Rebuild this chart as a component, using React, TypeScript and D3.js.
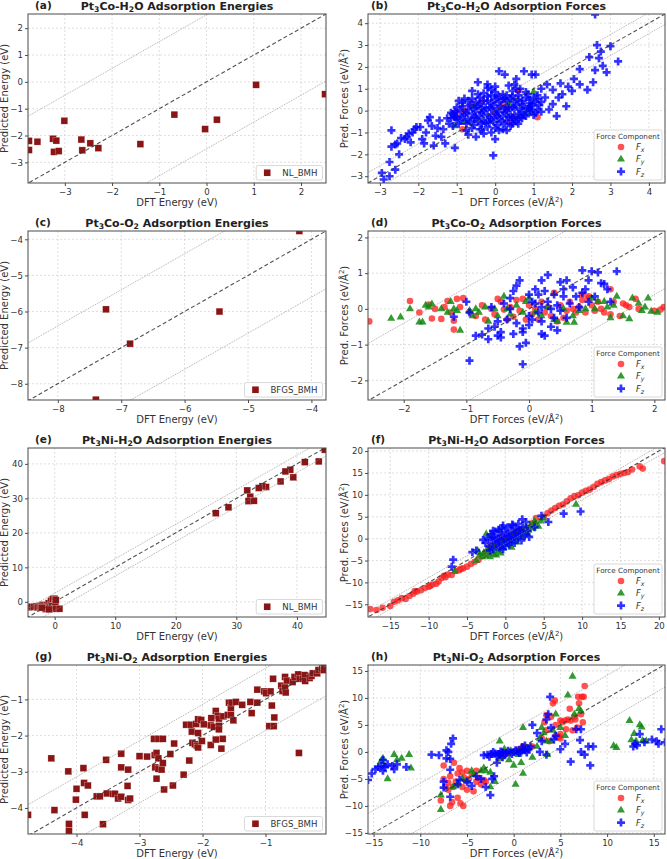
import React, { useEffect, useRef } from 'react';
import * as d3 from 'd3';

type Pt = [number, number];

const FONT = 'DejaVu Sans, sans-serif';

// Pt3Co-H2O
const coH2oEnergy: Pt[] = [
  [-3.76, -2.2], [-3.76, -2.54], [-3.58, -2.23], [-3.25, -2.12], [-3.18, -2.19], [-3.23, -2.61],
  [-3.13, -2.58], [-3.01, -1.45], [-2.65, -2.15], [-2.63, -2.55], [-2.46, -2.29], [-2.29, -2.47],
  [-1.4, -2.32], [-0.68, -1.22], [-0.03, -1.76], [0.22, -1.41], [1.05, -0.11], [2.51, -0.46],
];
const coH2oFx: Pt[] = [
  [-1.0, -0.05], [-1.05, -0.25], [-0.85, -0.85], [-0.6, 0.25], [-0.35, 0.45], [0.4, -0.55],
  [0.6, 0.9], [1.1, -0.3], [0.5, -0.3], [-0.8, 0.0], [0.2, 0.3], [0.0, -0.1], [0.3, 0.1],
];
const coH2oFy: Pt[] = [
  [-1.05, -0.7], [-0.8, -0.5], [0.6, -0.3], [0.8, -0.1], [0.95, -0.1], [1.0, 0.85],
  [-0.55, 0.2], [0.35, 0.3],
];
const coH2oFz: Pt[] = [
  // lower-left tail
  [-2.95, -2.85], [-2.9, -3.15], [-2.75, -2.35], [-2.7, -1.65], [-2.7, -0.9], [-2.6, -1.55],
  [-2.55, -1.5], [-2.5, -2.0], [-2.45, -1.25], [-2.35, -1.3], [-2.3, -1.2], [-2.2, -1.45],
  [-2.15, -1.0], [-2.1, -0.85], [-2.05, -0.75], [-1.95, -0.75], [-1.9, -1.3], [-1.8, -1.0],
  [-1.75, -0.45], [-1.65, -0.7], [-1.6, -1.6], [-1.55, -1.15], [-1.5, -0.8], [-1.45, -0.45],
  [-1.4, -1.2], [-1.35, -0.85], [-1.3, -1.5], [-1.25, -0.35], [-1.2, -0.6], [-1.15, -0.1],
  [-1.1, -0.7], [-1.05, -1.7], [-1.0, -0.4], [-2.75, -3.0], [-2.6, -2.7], [-2.25, -1.05],
  [-1.85, -1.5], [-1.7, -0.3], [-1.05, -0.3],
  // upper-right tail
  [3.2, 2.25], [3.0, 2.95], [2.65, 3.0], [2.6, 4.4], [2.75, 2.7], [2.7, 2.4], [2.8, 2.05],
  [2.9, 1.75], [2.6, 1.85], [2.4, 0.95], [2.45, 2.45], [2.2, 1.9], [2.2, 1.2], [2.05, 1.45],
  [2.0, 0.9], [1.9, 1.1], [1.75, 0.75], [1.65, 0.6], [1.7, 1.25], [1.5, 0.95], [1.5, 0.3],
  [1.35, 1.2], [1.2, 0.4], [1.2, -0.05], [1.4, 0.05], [1.3, 0.6], [1.05, 1.65], [0.95, 1.65],
  [0.75, 1.8], [0.55, 1.45], [0.8, 0.85], [0.95, 0.3], [1.1, 0.55], [1.05, -0.1], [0.9, 0.1],
  [0.75, -0.2], [0.65, 1.0], [2.55, 1.3], [1.85, 0.2], [1.6, -0.25], [1.2, 1.0],
  // around the core
  [0.1, 1.8], [-0.45, 1.3], [0.0, 1.1], [-0.2, 1.2], [0.35, 1.15], [0.5, 1.2], [-0.6, 0.9],
  [0.25, 1.65], [-0.05, -2.05], [-0.5, -1.2], [-0.3, -1.05], [0.0, -1.3], [-0.7, -1.1],
  [0.3, -0.9], [0.1, -0.9], [-0.35, -0.85], [0.6, -0.6], [0.45, -0.6], [-0.1, -1.0],
  // core
  [-0.3, 0.8], [0.0, 0.85], [0.2, 0.75], [0.45, 0.9], [-0.1, 0.95],
  [-0.6, 0.55], [-0.4, 0.6], [-0.2, 0.65], [0.05, 0.6], [0.25, 0.55], [0.45, 0.65], [0.6, 0.7], [0.8, 0.6],
  [-0.85, 0.35], [-0.7, 0.45], [-0.5, 0.4], [-0.3, 0.45], [-0.1, 0.35], [0.1, 0.4], [0.3, 0.45],
  [0.5, 0.4], [0.7, 0.45], [0.9, 0.5], [1.05, 0.4],
  [-1.0, 0.15], [-0.85, 0.2], [-0.65, 0.25], [-0.45, 0.2], [-0.25, 0.15], [-0.05, 0.25], [0.15, 0.2],
  [0.35, 0.15], [0.55, 0.25], [0.75, 0.2], [0.95, 0.2], [1.15, 0.25],
  [-1.05, -0.05], [-0.9, 0.0], [-0.7, 0.05], [-0.5, -0.05], [-0.3, 0.0], [-0.1, 0.05], [0.1, -0.05],
  [0.3, 0.0], [0.5, 0.05], [0.7, -0.05], [0.9, 0.0], [1.1, 0.05],
  [-1.0, -0.25], [-0.8, -0.2], [-0.6, -0.15], [-0.4, -0.25], [-0.2, -0.2], [0.0, -0.15], [0.2, -0.25],
  [0.4, -0.2], [0.6, -0.15], [0.8, -0.25], [1.0, -0.2],
  [-0.9, -0.45], [-0.7, -0.4], [-0.5, -0.35], [-0.3, -0.45], [-0.1, -0.4], [0.1, -0.35], [0.3, -0.45],
  [0.5, -0.4], [0.7, -0.35],
  [-0.75, -0.6], [-0.55, -0.65], [-0.35, -0.6], [-0.15, -0.55], [0.05, -0.65], [0.25, -0.6], [0.4, -0.7],
  [-0.6, -0.8], [-0.4, -0.85], [-0.2, -0.75], [0.0, -0.8], [0.2, -0.85],
  [-0.95, 0.45], [-1.15, -0.35], [-0.75, -0.9], [0.85, 0.75], [1.1, 0.7], [-0.2, 1.05], [0.55, 1.0],
  [-0.4, 0.3], [-0.2, 0.45], [0.0, 0.5], [0.2, 0.55], [0.4, 0.55], [0.6, 0.5], [-0.55, 0.1],
  [-0.35, 0.1], [-0.15, 0.15], [0.05, 0.1], [0.25, 0.1], [0.45, 0.15], [0.65, 0.1], [0.85, 0.1],
  [-0.75, -0.1], [-0.55, -0.3], [-0.35, -0.1], [-0.15, -0.3], [0.05, -0.25], [0.25, -0.1], [0.45, -0.3],
  [0.65, -0.3], [-0.85, -0.3], [-0.65, -0.5], [-0.45, -0.5], [-0.25, -0.55], [-0.05, -0.5],
  [0.15, -0.5], [0.35, -0.3], [0.1, 0.65], [-0.1, 0.7], [0.3, 0.7], [-0.45, 0.75], [0.7, 0.3],
  [0.9, 0.35], [1.0, 0.6], [-0.95, -0.6], [-1.1, -0.15], [-0.8, 0.55], [0.55, -0.5],
];

// Pt3Co-O2
const coO2Energy: Pt[] = [
  [-4.19, -3.77], [-7.24, -5.94], [-6.86, -6.89], [-5.45, -6.0], [-7.4, -8.44],
];
const coO2Fx: Pt[] = [
  [-2.55, -0.35], [-1.6, 0.12], [-1.55, -0.27], [-1.5, 0.0], [-1.4, -0.28], [-1.3, 0.22],
  [-1.25, -0.1], [-1.2, -0.33], [-1.15, 0.28], [-1.1, 0.05], [-1.05, 0.3], [-1.2, -0.58],
  [-0.95, -0.08], [-0.85, -0.2], [-0.75, 0.1], [-0.7, -0.3], [-0.6, 0.0], [-0.55, -0.15],
  [-0.5, 0.28], [-0.45, 0.2], [-0.4, -0.02], [-0.35, -0.3], [-0.3, 0.05], [-0.25, -0.22],
  [-0.2, 0.25], [-0.15, -0.05], [-0.1, 0.28], [-0.05, -0.3], [0.0, 0.1], [0.05, -0.15],
  [0.1, 0.0], [0.15, -0.3], [0.2, 0.2], [0.25, -0.1], [0.3, 0.05], [0.35, -0.2], [0.4, 0.45],
  [0.45, -0.35], [0.5, 0.1], [0.55, -0.25], [0.6, -0.05], [0.65, 0.2], [0.7, 0.0], [0.75, -0.1],
  [0.8, 0.05], [0.85, 0.25], [0.9, -0.1], [0.95, 0.3], [1.0, 0.1], [1.05, -0.05], [1.1, 0.2],
  [1.15, 0.0], [1.2, -0.1], [1.3, 0.55], [1.3, -0.15], [1.35, 0.2], [1.45, -0.2], [1.5, 0.15],
  [1.55, 0.1], [1.6, 0.05], [1.75, 0.0], [1.7, 0.28], [2.15, 0.05], [2.0, -0.05], [2.1, -0.02],
  [0.85, 0.4], [0.95, 0.35], [-1.75, -0.1], [-1.9, 0.22], [-1.35, 0.05],
];
const coO2Fy: Pt[] = [
  [-2.2, -0.27], [-2.05, -0.23], [-1.75, -0.37], [-1.7, -0.37], [-1.6, 0.05], [-1.55, 0.13],
  [-1.4, 0.0], [-1.3, -0.1], [-1.25, 0.2], [-1.2, 0.0], [-1.15, -0.05], [-1.1, -0.6],
  [-0.95, -0.05], [-0.9, -0.2], [-0.85, 0.0], [-0.8, -0.1], [-0.7, 0.05], [-0.65, -0.35],
  [-0.55, 0.0], [-0.5, -0.2], [-0.4, 0.35], [-0.35, 0.0], [-0.3, -0.15], [-0.2, 0.1],
  [-0.1, -0.1], [-0.05, 0.2], [0.0, 0.3], [0.1, -0.1], [0.2, -0.2], [0.3, 0.05], [0.4, -0.3],
  [0.45, -0.35], [0.55, 0.0], [0.6, -0.38], [0.7, -0.2], [0.72, -0.38], [0.8, -0.05], [0.9, 0.0],
  [1.0, 0.3], [1.05, 0.0], [1.1, 0.2], [1.2, 0.2], [1.25, 0.05], [1.3, -0.25], [1.35, 0.1],
  [1.4, 0.35], [1.5, -0.2], [1.6, -0.28], [1.65, 0.3], [1.75, 0.15], [1.9, 0.3], [1.8, -0.05],
  [1.95, -0.07], [2.05, -0.1], [1.85, 0.05], [-1.65, 0.1], [-1.9, 0.0],
];
const coO2Fz: Pt[] = [
  [-0.95, -1.45], [-1.2, -0.22], [-1.0, 0.2], [-0.95, -0.1], [-0.85, -0.75], [-0.75, -0.72],
  [-0.65, -0.55], [-0.65, -0.85], [-0.6, 0.05], [-0.55, -0.5], [-0.5, -0.75], [-0.5, -0.35],
  [-0.45, -0.65], [-0.45, -0.8], [-0.4, 0.15], [-0.35, -0.3], [-0.3, 0.0], [-0.25, -0.7],
  [-0.2, 0.65], [-0.2, -0.4], [-0.15, 0.8], [-0.1, -0.55], [-0.1, -0.65], [-0.15, -1.05],
  [-0.05, -0.95], [-0.1, -1.55], [0.0, 0.4], [0.0, -0.2], [0.05, 0.2], [0.05, -0.3], [0.1, 0.55],
  [0.15, -0.1], [0.2, 0.8], [0.2, -0.35], [0.25, 0.5], [0.25, -0.75], [0.3, 0.95], [0.3, 0.2],
  [0.35, 0.0], [0.4, -0.25], [0.4, 0.4], [0.45, 0.1], [0.5, 0.75], [0.5, -0.05], [0.55, 0.55],
  [0.55, 0.35], [0.6, 0.8], [0.6, -0.25], [0.65, 0.15], [0.7, 0.6], [0.75, 0.35], [0.8, 0.05],
  [0.85, 0.45], [0.85, 1.08], [0.9, 0.55], [0.95, 0.8], [0.95, 0.2], [1.0, 1.05], [1.05, 0.35],
  [1.1, 1.02], [1.15, 0.72], [1.2, 0.7], [1.25, 0.55], [1.4, 1.05], [1.3, 0.2], [0.2, -0.7],
  [0.15, 0.4], [-0.25, 0.5], [0.0, -0.45], [0.35, -0.5], [-0.3, 0.3], [0.45, -0.6], [0.2, 0.05],
  [0.1, 0.15],
];

// Pt3Ni-H2O
const niH2oEnergy: Pt[] = [
  [44.6, 44.1], [43.6, 40.7], [41.3, 40.5], [38.9, 38.3], [38.1, 37.8], [39.4, 36.1], [37.3, 34.9],
  [34.9, 33.3], [34.3, 33.5], [33.7, 33.0], [31.8, 32.3], [32.3, 30.5], [32.0, 29.2], [32.9, 29.3],
  [28.7, 27.4], [26.6, 25.7],
  [-4.3, -1.6], [-3.8, -1.4], [-3.4, -1.5], [-3.0, -1.3], [-2.8, -1.6], [-2.5, -1.2], [-2.3, -1.4],
  [-2.0, -0.9], [-1.8, -1.3], [-1.6, -1.6], [-1.5, -2.1], [-1.3, -1.0], [-1.1, -1.5], [-1.0, -0.4],
  [-0.8, -1.3], [-0.6, 0.3], [-0.5, -1.8], [-0.4, -0.8], [-0.3, 0.8], [-0.2, -1.3], [0.0, 0.9],
  [0.1, -0.6], [0.1, -1.2], [0.2, 0.5], [0.2, -2.0], [0.8, -2.0], [-0.9, -2.2], [-2.1, -1.7],
];
const niH2oFx: Pt[] = [
  [-17.6, -16.1], [-16.8, -16.3], [-16.0, -15.8], [-15.0, -15.4], [-14.5, -14.4], [-14.0, -14.1],
  [-13.5, -13.6], [-13.0, -13.8], [-12.5, -13.1], [-12.0, -12.6], [-11.8, -12.0], [-11.5, -12.1],
  [-11.0, -11.8], [-10.5, -11.3], [-10.0, -11.0], [-9.8, -10.8], [-9.5, -10.5], [-9.0, -10.3],
  [-8.7, -9.8], [-8.3, -9.0], [-8.0, -8.5], [-7.8, -8.8], [-7.5, -8.2], [-7.0, -8.3], [-6.5, -7.4],
  [-6.0, -7.2], [-5.8, -6.9], [-5.5, -6.8], [-5.0, -6.4], [-4.5, -5.8], [-4.0, -5.3], [-3.5, -4.8],
  [-3.0, -4.0], [-2.5, -3.5], [-2.0, -1.5], [-1.5, -2.0], [-1.0, -1.0], [-0.5, 0.5], [0.0, 0.0],
  [0.5, -0.5], [1.0, 1.0], [1.5, 2.0], [2.0, 2.0], [3.0, 2.5], [3.5, 3.5], [4.0, 4.7], [5.0, 5.0],
  [5.5, 5.8], [6.0, 6.4], [6.5, 7.0], [7.0, 7.5], [7.5, 7.8], [8.0, 8.5], [8.5, 9.2], [9.0, 9.7],
  [9.5, 9.9], [10.0, 10.5], [10.5, 10.9], [11.0, 11.2], [11.5, 11.8], [12.0, 12.5], [12.5, 12.9],
  [13.0, 13.3], [13.5, 13.6], [14.0, 14.2], [14.5, 14.5], [15.0, 14.8], [15.5, 15.0], [16.0, 15.2],
  [16.5, 15.8], [17.5, 16.5], [17.9, 16.0], [20.7, 17.7],
];
const niH2oFy: Pt[] = [
  [-3.3, -3.8], [-3.0, -4.2], [-2.8, -3.2], [-2.6, -3.9], [-2.4, -2.6], [-2.2, -3.3], [-2.0, -2.2],
  [-1.8, -3.0], [-1.6, -1.6], [-1.5, -3.6], [-1.3, -2.4], [-1.1, -1.2], [-0.9, -2.8], [-0.7, -1.8],
  [-0.5, -0.6], [-0.3, -2.2], [-0.1, -1.0], [0.2, -0.2], [0.4, -1.5], [0.6, 0.6], [0.9, -0.5],
  [1.1, 1.2], [1.4, 0.3], [1.6, 1.8], [1.9, 0.9], [2.1, 2.2], [2.4, 1.4], [2.7, 2.6], [3.0, 1.9],
  [3.3, 3.0], [3.6, 2.4], [4.0, 3.3], [4.3, 2.8], [4.6, 4.0], [-2.5, 1.0], [-1.9, 0.6], [-0.8, 1.9],
  [5.0, 4.6], [9.2, 7.8], [-3.8, -5.0], [-6.6, -7.5], [-2.0, -4.2], [-3.6, -2.8], [0.8, -2.0],
  [2.2, 0.2], [3.8, 4.0], [-1.2, -3.8], [-0.6, -3.3], [1.5, -0.8], [2.9, 1.0],
];
const niH2oFz: Pt[] = [
  [-2.6, -1.0], [-2.3, 0.2], [-2.1, -1.8], [-1.9, 1.0], [-1.8, -0.4], [-1.6, -2.4], [-1.5, 0.4],
  [-1.3, 1.6], [-1.2, -1.2], [-1.0, 0.0], [-0.9, 2.0], [-0.8, -2.0], [-0.6, 0.8], [-0.5, -0.8],
  [-0.4, 2.4], [-0.2, 0.2], [-0.1, -1.6], [0.0, 1.4], [0.2, -0.4], [0.3, 2.6], [0.4, 0.6],
  [0.5, -1.4], [0.7, 1.8], [0.8, -0.2], [1.0, 3.0], [1.1, 0.8], [1.2, -1.0], [1.4, 2.2], [1.6, 0.2],
  [1.7, 3.4], [1.9, 1.4], [2.1, -0.4], [2.3, 2.6], [2.5, 0.8], [2.7, 3.8], [2.9, 1.8], [3.1, 0.4],
  [-2.9, -0.3], [-0.3, 3.0], [-1.4, -0.2], [0.6, 0.0], [1.3, 1.2], [-0.7, -0.1], [0.1, 0.9],
  [1.8, 2.0], [-3.8, -2.7], [-4.3, -3.1], [-6.8, -4.8], [-7.0, -6.4], [4.7, 5.2], [5.6, 3.8],
  [7.6, 5.7], [9.8, 6.2], [3.8, 2.6], [2.2, 4.4], [-1.6, 1.8], [0.9, 3.2], [-2.0, -2.7], [-0.3, -2.4],
];

// Pt3Ni-O2
const niO2Energy: Pt[] = [
  [-4.77, -4.19], [-4.4, -2.63], [-4.35, -4.06], [-4.13, -2.99], [-4.12, -4.44], [-4.12, -4.63],
  [-4.0, -3.47], [-4.01, -3.77], [-3.89, -2.9], [-3.88, -3.31], [-3.87, -4.19], [-3.82, -3.38],
  [-3.68, -3.68], [-3.63, -3.68], [-3.53, -2.67], [-3.52, -3.6], [-3.58, -4.45], [-3.42, -3.61],
  [-3.39, -3.61], [-3.34, -3.74], [-3.29, -2.5], [-3.29, -2.88], [-3.29, -3.69], [-3.18, -2.94],
  [-3.19, -3.39], [-3.18, -3.78], [-3.15, -3.74], [-3.0, -2.57], [-2.88, -2.58], [-2.77, -2.09],
  [-2.7, -2.09], [-2.63, -2.09], [-2.76, -2.54], [-2.73, -2.48], [-2.7, -2.63], [-2.75, -2.88],
  [-2.7, -2.92], [-2.65, -2.94], [-2.63, -2.76], [-2.73, -3.19], [-2.61, -3.49], [-2.51, -2.51],
  [-2.45, -2.22], [-2.47, -3.38], [-2.3, -3.08], [-2.26, -1.7], [-2.21, -2.69], [-2.19, -1.7],
  [-2.17, -1.89], [-2.16, -2.2], [-2.12, -2.24], [-2.1, -1.68], [-2.09, -2.28], [-2.07, -1.55],
  [-2.07, -1.93], [-2.07, -2.33], [-2.02, -1.57], [-2.01, -2.15], [-1.98, -1.69], [-1.87, -1.72],
  [-1.87, -2.26], [-1.86, -1.52], [-1.82, -1.76], [-1.79, -2.11], [-1.79, -1.32], [-1.76, -1.46],
  [-1.74, -1.53], [-1.74, -1.73], [-1.74, -1.83], [-1.7, -2.36], [-1.68, -2.09], [-1.67, -1.47],
  [-1.6, -1.43], [-1.58, -1.09], [-1.55, -1.43], [-1.55, -1.24], [-1.54, -1.09], [-1.51, -1.58],
  [-1.47, -1.07], [-1.37, -1.15], [-1.24, -1.07], [-1.22, -1.38], [-1.13, -0.73], [-1.13, -1.09],
  [-1.02, -0.78], [-0.99, -0.83], [-0.94, -1.74], [-0.92, -0.78], [-0.9, -1.17], [-0.88, -0.43],
  [-0.87, -1.74], [-0.86, -1.5], [-0.75, -0.62], [-0.73, -0.77], [-0.69, -0.38], [-0.69, -0.67],
  [-0.68, -0.81], [-0.66, -0.48], [-0.57, -0.52], [-0.54, -0.38], [-0.48, -0.31], [-0.47, -2.48],
  [-0.46, -0.43], [-0.41, -0.43], [-0.38, -0.33], [-0.37, -0.49], [-0.3, -0.41], [-0.27, -0.35],
  [-0.25, -0.28], [-0.18, -0.28], [-0.16, -0.19], [-0.1, -0.15], [-0.07, -0.08], [-0.07, -0.19],
];
const niO2Fx: Pt[] = [
  [-7.8, -9.0], [-7.5, -2.5], [-7.5, -5.0], [-7.3, -6.5], [-7.0, -7.0], [-6.8, -10.0], [-6.6, -9.3],
  [-6.5, -6.5], [-6.4, -2.0], [-6.2, -5.5], [-6.0, -4.0], [-6.0, -8.5], [-5.8, -3.0], [-5.7, -9.5],
  [-5.5, -6.5], [-5.4, -10.0], [-5.3, -4.8], [-5.0, -3.5], [-5.0, -7.0], [-4.8, -5.0], [-4.5, -4.0],
  [-4.3, -7.3], [-4.0, -5.5], [-3.8, -4.8], [-3.5, -6.0], [-3.2, -5.2], [-3.0, -5.5], [-6.8, -4.5],
  [-7.0, -5.7], [-5.5, -3.8], [-4.0, -3.5], [-1.0, -0.5], [0.5, 0.5], [1.0, 1.0], [1.2, 0.5],
  [3.0, 2.5], [3.3, 5.5], [3.5, 6.8], [3.5, 4.0], [3.8, 2.0], [4.0, 6.5], [4.2, 9.0], [4.4, 9.5],
  [4.5, 5.0], [4.5, 3.0], [4.8, 2.8], [5.0, 5.8], [5.0, 3.3], [5.2, 5.5], [5.5, 5.8], [5.6, 4.2],
  [5.8, 6.0], [6.0, 8.0], [6.1, 5.8], [6.3, 4.0], [6.5, 6.5], [6.6, 6.0], [6.9, 10.2], [7.0, 9.0],
  [7.3, 10.2], [7.4, 5.5], [7.5, 10.2], [7.6, 12.2], [7.2, 7.0], [5.0, 2.5], [6.8, 4.5], [2.0, 1.0],
];
const niO2Fy: Pt[] = [
  [-14.2, -1.7], [-14.0, -1.2], [-13.8, -2.5], [-13.5, -5.0], [-12.8, -0.5], [-12.5, -1.5],
  [-12.0, -1.2], [-11.2, -0.5], [-11.0, -3.0], [-7.8, -8.0], [-7.8, -10.7], [-6.5, -6.5],
  [-6.0, -6.0], [-5.5, -5.0], [-5.0, -5.5], [-4.5, -3.5], [-4.3, -4.2], [-3.5, -3.5], [-3.2, -3.0],
  [-3.0, -3.5], [-2.5, -6.5], [-2.5, -3.8], [-2.0, -5.5], [-1.5, 2.0], [-1.5, -1.2], [-1.0, 0.5],
  [-0.5, -1.5], [-0.3, 0.2], [0.0, -2.5], [0.2, -6.0], [0.5, -0.5], [0.8, -2.0], [1.0, 4.5],
  [1.0, -4.0], [1.5, 0.5], [2.0, -1.0], [2.5, 1.0], [2.8, 2.5], [3.0, 4.5], [3.2, 3.5], [3.5, 2.0],
  [3.6, -0.5], [4.0, 2.0], [4.5, 7.0], [4.2, 4.0], [5.0, 4.5], [5.5, 3.0], [5.8, 10.5], [6.3, 14.0],
  [6.5, 7.0], [7.0, 8.0], [7.2, 7.5], [10.7, 1.1], [11.0, 0.8], [12.4, 5.8], [12.6, 2.2], [12.9, 3.4],
  [13.1, 2.0], [13.5, 5.0], [13.7, 4.6], [13.8, 2.1], [14.2, 2.0],
];
const niO2Fz: Pt[] = [
  [-15.6, -5.2], [-15.2, -4.0], [-14.8, -3.2], [-14.5, -2.8], [-14.2, -2.6], [-13.8, -2.8],
  [-13.5, -2.3], [-13.0, -2.6], [-12.8, -3.2], [-14.0, -1.5], [-14.0, -3.5], [-12.5, -2.3],
  [-11.5, -2.8], [-8.8, -0.5], [-8.0, -0.6], [-7.2, 0.3], [-6.5, 2.5], [-6.7, 1.5], [-7.0, 0.0],
  [-7.2, -1.2], [-6.8, -1.3], [-6.8, -3.3], [-7.5, -5.5], [-6.8, -8.3], [-7.5, -6.6], [-5.8, -5.2],
  [-6.0, -6.0], [-5.0, -5.5], [-4.5, -6.3], [-3.0, -6.5], [-2.5, -8.0], [-2.3, -5.0], [-2.1, -4.5],
  [-1.8, -2.0], [-1.5, -0.5], [-1.2, -0.1], [-3.5, -5.0], [-4.0, -4.5], [-1.2, -1.0],
  [-3.2, -0.6], [-2.8, -0.5], [-2.4, -0.4], [-2.0, -0.3], [-1.6, -0.4], [-1.2, -0.2], [-0.8, -0.2],
  [-0.4, -0.1], [0.0, 0.0], [0.4, 0.1], [0.8, 0.1], [1.2, 0.3], [1.6, 0.5], [-2.6, -0.9],
  [-1.8, -0.8], [-1.0, -0.6], [-0.2, -0.4], [0.6, -0.2], [1.4, -0.1], [-1.4, 0.1], [-0.6, 0.2],
  [0.2, 0.3], [1.0, 0.5], [-2.2, 0.0], [1.8, 1.0], [1.2, 1.2], [0.9, 0.9],
  [2.0, 5.0], [2.5, 3.5], [3.0, 2.0], [2.8, 0.0], [3.5, -0.5], [3.7, 7.0], [3.5, 6.0], [3.9, 10.2],
  [4.0, 4.5], [4.5, 3.0], [5.0, 0.5], [4.3, 2.3], [5.5, 1.5], [6.1, -1.8], [6.7, 4.2], [7.1, 2.2],
  [7.2, 0.0], [7.6, -0.5], [7.2, 4.2], [8.0, 1.0], [8.2, -2.5], [8.5, 1.0], [12.8, 1.0], [13.2, 1.2],
  [13.5, 3.3], [14.0, 1.8], [14.8, 2.3], [15.3, 2.0], [15.5, 1.5], [15.8, 4.2], [16.2, 1.8], [13.0, 1.5],
];

interface PanelSpec {
  tag: string;
  metal: string;
  ads: 'H2O' | 'O2';
  col: number;
  row: number;
  xDomain: [number, number];
  yDomain: [number, number];
  ticks: number[];
  band: number;
  energy?: Pt[];
  method?: string;
  fx?: Pt[];
  fy?: Pt[];
  fz?: Pt[];
}

const panels: PanelSpec[] = [
  { tag: '(a)', metal: 'Co', ads: 'H2O', col: 0, row: 0, xDomain: [-3.78, 2.53], yDomain: [-3.77, 2.53], ticks: [-3, -2, -1, 0, 1, 2], band: 2.5, energy: coH2oEnergy, method: 'NL_BMH' },
  { tag: '(b)', metal: 'Co', ads: 'H2O', col: 1, row: 0, xDomain: [-3.31, 4.42], yDomain: [-3.31, 4.42], ticks: [-3, -2, -1, 0, 1, 2, 3, 4], band: 0.48, fx: coH2oFx, fy: coH2oFy, fz: coH2oFz },
  { tag: '(c)', metal: 'Co', ads: 'O2', col: 0, row: 1, xDomain: [-8.47, -3.77], yDomain: [-8.45, -3.77], ticks: [-8, -7, -6, -5, -4], band: 1.6, energy: coO2Energy, method: 'BFGS_BMH' },
  { tag: '(d)', metal: 'Co', ads: 'O2', col: 1, row: 1, xDomain: [-2.57, 2.17], yDomain: [-2.55, 2.18], ticks: [-2, -1, 0, 1, 2], band: 1.6, fx: coO2Fx, fy: coO2Fy, fz: coO2Fz },
  { tag: '(e)', metal: 'Ni', ads: 'H2O', col: 0, row: 2, xDomain: [-4.4, 44.8], yDomain: [-4.4, 44.6], ticks: [0, 10, 20, 30, 40], band: 2.5, energy: niH2oEnergy, method: 'NL_BMH' },
  { tag: '(f)', metal: 'Ni', ads: 'H2O', col: 1, row: 2, xDomain: [-17.9, 20.8], yDomain: [-17.9, 20.7], ticks: [-15, -10, -5, 0, 5, 10, 15, 20], band: 1.1, fx: niH2oFx, fy: niH2oFy, fz: niH2oFz },
  { tag: '(g)', metal: 'Ni', ads: 'O2', col: 0, row: 3, xDomain: [-4.77, -0.04], yDomain: [-4.72, -0.05], ticks: [-4, -3, -2, -1], band: 0.86, energy: niO2Energy, method: 'BFGS_BMH' },
  { tag: '(h)', metal: 'Ni', ads: 'O2', col: 1, row: 3, xDomain: [-15.6, 16.2], yDomain: [-15.2, 16.1], ticks: [-15, -10, -5, 0, 5, 10, 15], band: 4.2, fx: niO2Fx, fy: niO2Fy, fz: niO2Fz },
];

const colLeft = [28, 368];
const colWidth = [298, 297];
const rowTop = [14, 231, 448, 665];
const plotHeight = 169;

const ENERGY_FILL = '#8b1414';
const FX_COLOR = '#ff1a1a';
const FY_COLOR = '#118811';
const FZ_COLOR = '#0000ff';

const fmt = (d: number) => (d < 0 ? '\u2212' : '') + Math.abs(d);

// matplotlib-style filled plus ('P')
const plusPath = (s: number) => {
  const h = s / 2;
  const t = s / 6;
  return `M${-t},${-h}L${t},${-h}L${t},${-t}L${h},${-t}L${h},${t}L${t},${t}L${t},${h}L${-t},${h}L${-t},${t}L${-h},${t}L${-h},${-t}L${-t},${-t}Z`;
};
const triPath = d3.symbol().type(d3.symbolTriangle).size(28)() as string;
const PLUS = 8;

type Sel = d3.Selection<any, unknown, null, undefined>;

const addFormula = (text: Sel, parts: [string, boolean][], subSize: number) => {
  parts.forEach(([s, sub], i) => {
    const prevSub = i > 0 && parts[i - 1][1];
    const t = text.append('tspan').text(s);
    if (sub) t.attr('font-size', subSize).attr('dy', 2.8);
    else if (prevSub) t.attr('dy', -2.8);
  });
};

const titleParts = (p: PanelSpec): [string, boolean][] => {
  const what = p.energy ? 'Energies' : 'Forces';
  return p.ads === 'H2O'
    ? [['Pt', false], ['3', true], [`${p.metal}-H`, false], ['2', true], [`O Adsorption ${what}`, false]]
    : [['Pt', false], ['3', true], [`${p.metal}-O`, false], ['2', true], [` Adsorption ${what}`, false]];
};

const drawMarker = (g: Sel, kind: 'x' | 'y' | 'z', cx: number, cy: number) => {
  if (kind === 'x') {
    g.append('circle').attr('cx', cx).attr('cy', cy).attr('r', 3.3).attr('fill', FX_COLOR).attr('fill-opacity', 0.75);
  } else if (kind === 'y') {
    g.append('path').attr('d', triPath).attr('transform', `translate(${cx},${cy})`).attr('fill', FY_COLOR).attr('fill-opacity', 0.85);
  } else {
    g.append('path').attr('d', plusPath(PLUS)).attr('transform', `translate(${cx},${cy})`).attr('fill', FZ_COLOR).attr('fill-opacity', 0.8);
  }
};

const drawPanel = (root: Sel, p: PanelSpec) => {
  const left = colLeft[p.col];
  const width = colWidth[p.col];
  const top = rowTop[p.row];
  const bottom = top + plotHeight;
  const right = left + width;
  const x = d3.scaleLinear().domain(p.xDomain).range([left, right]);
  const y = d3.scaleLinear().domain(p.yDomain).range([bottom, top]);
  const g = root.append('g');
  const clipId = `clip-${p.col}-${p.row}`;
  g.append('clipPath').attr('id', clipId).append('rect')
    .attr('x', left).attr('y', top).attr('width', width).attr('height', plotHeight);

  // grid
  const grid = g.append('g').attr('stroke', '#c8c8c8').attr('stroke-width', 0.6).attr('stroke-dasharray', '2,2');
  grid.selectAll('line.gx').data(p.ticks).join('line').attr('class', 'gx')
    .attr('x1', (d) => x(d)).attr('x2', (d) => x(d)).attr('y1', top).attr('y2', bottom);
  grid.selectAll('line.gy').data(p.ticks).join('line').attr('class', 'gy')
    .attr('y1', (d) => y(d)).attr('y2', (d) => y(d)).attr('x1', left).attr('x2', right);

  const plot = g.append('g').attr('clip-path', `url(#${clipId})`);

  if (p.energy) {
    const s = 6.8;
    plot.append('g').selectAll('rect').data(p.energy).join('rect')
      .attr('x', (d) => x(d[0]) - s / 2).attr('y', (d) => y(d[1]) - s / 2)
      .attr('width', s).attr('height', s)
      .attr('fill', ENERGY_FILL).attr('stroke', '#ffffff').attr('stroke-width', 0.4).attr('stroke-opacity', 0.6);
  } else {
    plot.append('g').selectAll('circle').data(p.fx || []).join('circle')
      .attr('cx', (d) => x(d[0])).attr('cy', (d) => y(d[1])).attr('r', 3.3)
      .attr('fill', FX_COLOR).attr('fill-opacity', 0.75);
    plot.append('g').selectAll('path').data(p.fy || []).join('path')
      .attr('d', triPath).attr('transform', (d) => `translate(${x(d[0])},${y(d[1])})`)
      .attr('fill', FY_COLOR).attr('fill-opacity', 0.85);
    plot.append('g').selectAll('path').data(p.fz || []).join('path')
      .attr('d', plusPath(PLUS)).attr('transform', (d) => `translate(${x(d[0])},${y(d[1])})`)
      .attr('fill', FZ_COLOR).attr('fill-opacity', 0.8);
  }

  // parity line and error band
  const [lo, hi] = [Math.min(p.xDomain[0], p.yDomain[0]) - 5, Math.max(p.xDomain[1], p.yDomain[1]) + 5];
  [-p.band, p.band].forEach((off) => {
    plot.append('line')
      .attr('x1', x(lo)).attr('y1', y(lo + off)).attr('x2', x(hi)).attr('y2', y(hi + off))
      .attr('stroke', '#8a8a8a').attr('stroke-width', 0.7).attr('stroke-dasharray', '1,1');
  });
  plot.append('line')
    .attr('x1', x(lo)).attr('y1', y(lo)).attr('x2', x(hi)).attr('y2', y(hi))
    .attr('stroke', '#333').attr('stroke-opacity', 0.85).attr('stroke-width', 1.1).attr('stroke-dasharray', '4,2.5');

  // frame
  g.append('rect').attr('x', left).attr('y', top).attr('width', width).attr('height', plotHeight)
    .attr('fill', 'none').attr('stroke', '#4a4a4a').attr('stroke-width', 1);

  // axes
  const xAxis = g.append('g').attr('transform', `translate(0,${bottom})`)
    .call(d3.axisBottom(x).tickValues(p.ticks).tickSize(3).tickPadding(2.5).tickFormat((d) => fmt(+d)));
  const yAxis = g.append('g').attr('transform', `translate(${left},0)`)
    .call(d3.axisLeft(y).tickValues(p.ticks).tickSize(3).tickPadding(2).tickFormat((d) => fmt(+d)));
  [xAxis, yAxis].forEach((a) => {
    a.select('.domain').remove();
    a.attr('font-family', FONT).attr('font-size', 8.6);
    a.selectAll('line').attr('stroke', '#4a4a4a');
    a.selectAll('text').attr('fill', '#333');
  });

  const force = !p.energy;
  // x label
  const xl = g.append('text').attr('x', (left + right) / 2).attr('y', bottom + 23)
    .attr('text-anchor', 'middle').attr('font-family', FONT).attr('font-size', 10).attr('fill', '#333');
  if (force) {
    xl.append('tspan').text('DFT Forces (eV/\u00c5');
    xl.append('tspan').text('2').attr('font-size', 7).attr('dy', -4);
    xl.append('tspan').text(')').attr('dy', 4);
  } else {
    xl.text('DFT Energy (eV)');
  }
  // y label
  const ylx = left - 20.5;
  const yl = g.append('text').attr('transform', `translate(${ylx},${(top + bottom) / 2}) rotate(-90)`)
    .attr('text-anchor', 'middle').attr('font-family', FONT).attr('font-size', 10).attr('fill', '#333');
  if (force) {
    yl.append('tspan').text('Pred. Forces (eV/\u00c5');
    yl.append('tspan').text('2').attr('font-size', 7).attr('dy', -4);
    yl.append('tspan').text(')').attr('dy', 4);
  } else {
    yl.text('Predicted Energy (eV)');
  }

  // title and panel tag
  const title = g.append('text').attr('x', (left + right) / 2).attr('y', top - 4.5)
    .attr('text-anchor', 'middle').attr('font-family', FONT).attr('font-size', 11)
    .attr('font-weight', 'bold').attr('fill', '#222');
  addFormula(title, titleParts(p), 7.7);
  g.append('text').attr('x', left + (p.col === 0 ? 7 : 3)).attr('y', top - 5)
    .attr('font-family', FONT).attr('font-size', 10.5).attr('font-weight', 'bold').attr('fill', '#222')
    .text(p.tag);

  // legend
  const lg = g.append('g').attr('font-family', FONT).attr('fill', '#333');
  if (p.energy) {
    const box = lg.append('rect');
    const label = lg.append('text').attr('font-size', 8.6).text(p.method || '');
    const tw = (label.node() as SVGTextElement).getComputedTextLength();
    const bw = 26 + tw + 5;
    const bh = 14.5;
    const bx = right - 3.5 - bw;
    const by = bottom - 3 - bh;
    box.attr('x', bx).attr('y', by).attr('width', bw).attr('height', bh).attr('rx', 2)
      .attr('fill', '#fff').attr('fill-opacity', 0.85).attr('stroke', '#cfcfcf').attr('stroke-width', 0.8);
    label.attr('x', bx + 26).attr('y', by + bh / 2 + 3.2);
    lg.append('rect').attr('x', bx + 11 - 3.3).attr('y', by + bh / 2 - 3.3).attr('width', 6.6).attr('height', 6.6)
      .attr('fill', ENERGY_FILL);
  } else {
    const bw = 68;
    const bh = 50;
    const bx = right - 3 - bw;
    const by = bottom - 3 - bh;
    lg.append('rect').attr('x', bx).attr('y', by).attr('width', bw).attr('height', bh).attr('rx', 2)
      .attr('fill', '#fff').attr('fill-opacity', 0.85).attr('stroke', '#cfcfcf').attr('stroke-width', 0.8);
    lg.append('text').attr('x', bx + bw / 2).attr('y', by + 8.5).attr('text-anchor', 'middle')
      .attr('font-size', 7.2).text('Force Component');
    const cx = bx + bw / 2;
    (['x', 'y', 'z'] as const).forEach((k, i) => {
      const ry = by + 17 + i * 12.3;
      drawMarker(lg, k, cx - 7, ry);
      const t = lg.append('text').attr('x', cx + 8).attr('y', ry + 3).attr('font-size', 8.4).attr('font-style', 'italic');
      t.append('tspan').text('F');
      t.append('tspan').text(k).attr('font-size', 6.2).attr('dy', 2);
    });
  }
};

const App: React.FC = () => {
  const ref = useRef<SVGSVGElement>(null);
  useEffect(() => {
    if (!ref.current) return;
    const root = d3.select(ref.current);
    root.selectAll('*').remove();
    root.append('rect').attr('width', 667).attr('height', 859).attr('fill', '#fff');
    panels.forEach((p) => drawPanel(root as unknown as Sel, p));
  }, []);
  return (
    <svg
      ref={ref}
      width={667}
      height={859}
      viewBox="0 0 667 859"
      style={{ position: 'absolute', left: 0, top: 0, display: 'block' }}
    />
  );
};

export default App;
